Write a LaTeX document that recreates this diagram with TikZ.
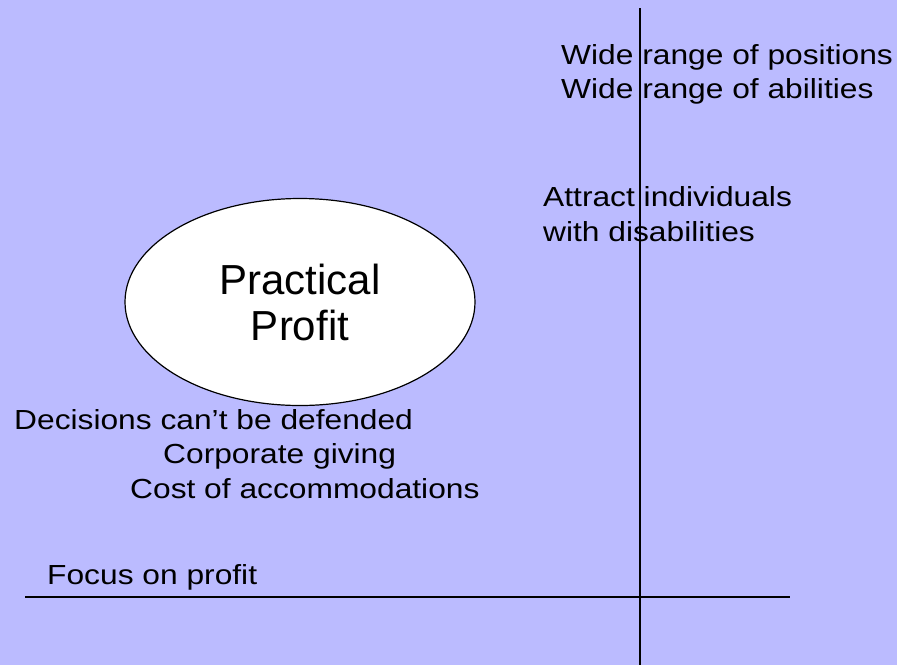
\documentclass[tikz,border=0pt]{standalone}
\usepackage{fontspec}
\setmainfont{Liberation Sans}
\newfontfamily\labelfont{Liberation Sans}[FakeStretch=1.15]
\usepackage{tikz}
\usetikzlibrary{positioning,shapes.geometric}
\definecolor{slideblue}{RGB}{187,187,255}

\begin{document}
\begin{tikzpicture}[x=1pt,y=-1pt,
	axis/.style={line width=2pt,black},
	point/.style={anchor=base west,inner sep=0pt,font=\labelfont\fontsize{27.6}{34}\selectfont},
	bubble/.style={ellipse,draw,line width=1.2pt,fill=white,minimum width=350pt,minimum height=207pt,
		inner sep=0pt,align=center,font=\fontsize{42}{46}\selectfont}]
		
		\coordinate (TL) at (0,0);
		\coordinate (BR) at (897,665);
		
		\fill[slideblue] (TL) rectangle (BR);
		\useasboundingbox (TL) rectangle (BR);
		
		\coordinate (vtop) at (640,8);
		\coordinate (vbot) at (640,665);
		\coordinate (hleft) at (25,597);
		\coordinate (hright) at (790,597);
		
		\draw[axis] (vtop)--(vbot);
		\draw[axis] (hleft)--(hright);
		
		\node[bubble] (profit) at (300,302)
		{Practical\\Profit};
		
		\node[point] (positions) at (561,64)
		{Wide range of positions};
		\node[point] (abilities) at (561,98)
		{Wide range of abilities};
		
		\node[point] (attract) at (543,206)
		{Attract individuals};
		\node[point] (disab) at (543,241)
		{with disabilities};
		
		\node[point] (defend) at (14,429)
		{Decisions can’t be defended};
		\node[point] (giving) at (163,463)
		{Corporate giving};
		\node[point] (cost) at (130,498)
		{Cost of accommodations};
		
		\node[point] (focus) at (47,584)
		{Focus on profit};
		
	\end{tikzpicture}
\end{document}
